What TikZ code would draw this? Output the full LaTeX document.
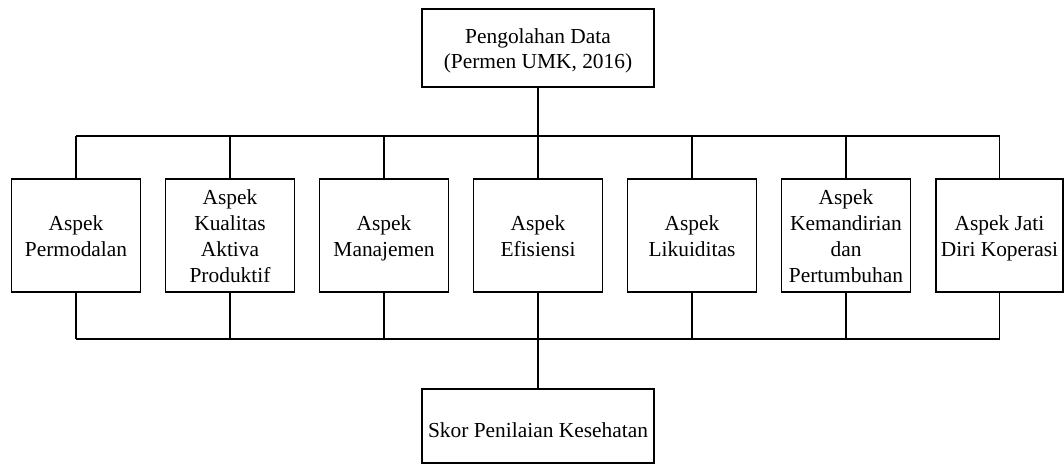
\documentclass[tikz,border=0pt]{standalone}
\usepackage{fontspec}
\setmainfont{Liberation Serif}
\newcommand\lnstrut{\rule[-2.45pt]{0pt}{12.9pt}}
\begin{document}
\begin{tikzpicture}[x=0.5pt,y=-0.5pt,
  txt/.style={inner sep=0pt,align=center,font=\fontsize{10.7}{12.9}\selectfont},
  box/.style={txt,draw,line width=0.6pt,rectangle},
  aspek/.style={box,minimum width=64.5pt,minimum height=56.5pt},
  wire/.style={line width=0.6pt}]
\useasboundingbox (0,0) rectangle (1064,464);
\node[box,minimum width=116pt,minimum height=39pt] (top) at (538,48) {\lnstrut Pengolahan Data\\\lnstrut(Permen UMK, 2016)};
\node[aspek] (b1) at (76,235.5) {\lnstrut Aspek\\\lnstrut Permodalan};
\node[aspek] (b2) at (230,235.5) {\lnstrut Aspek\\\lnstrut Kualitas\\\lnstrut Aktiva\\\lnstrut Produktif};
\node[aspek] (b3) at (384,235.5) {\lnstrut Aspek\\\lnstrut Manajemen};
\node[aspek] (b4) at (538,235.5) {\lnstrut Aspek\\\lnstrut Efisiensi};
\node[aspek] (b5) at (692,235.5) {\lnstrut Aspek\\\lnstrut Likuiditas};
\node[aspek] (b6) at (846,235.5) {\lnstrut Aspek\\\lnstrut Kemandirian\\\lnstrut dan\\\lnstrut Pertumbuhan};
\node[aspek,minimum width=63.5pt] (b7) at (999.5,235.5) {\lnstrut Aspek Jati\\\lnstrut Diri Koperasi};
\node[box,minimum width=116pt,minimum height=37pt] (bot) at (538,426) {};
\node[txt] (bottxt) at (538,430) {Skor Penilaian Kesehatan};
\coordinate (bt) at (538,136);
\coordinate (bb) at (538,339);
\draw[wire] (top.south) -- (bt);
\draw[wire] (b1.north |- bt) -- (b7.north |- bt);
\draw[wire] (b1.south |- bb) -- (b7.south |- bb);
\foreach \i in {1,...,7}{
  \draw[wire] (b\i.north) -- (b\i.north |- bt);
  \draw[wire] (b\i.south) -- (b\i.south |- bb);
}
\draw[wire] (bb) -- (bot.north);
\end{tikzpicture}
\end{document}
